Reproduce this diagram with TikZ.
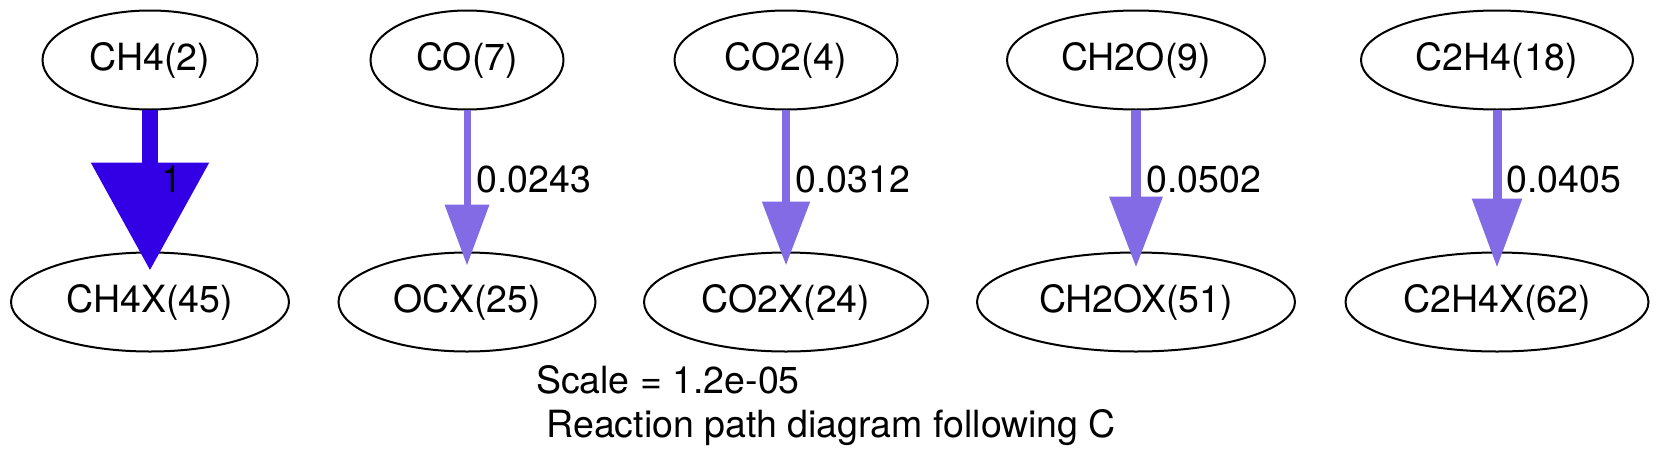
\documentclass[tikz,border=0pt]{standalone}
\usepackage{fontspec}
\setmainfont{TeX Gyre Heros}
\usetikzlibrary{shapes.geometric,arrows.meta}
\definecolor{strongflux}{HTML}{3300E6}
\definecolor{weakflux}{HTML}{836BE5}
\begin{document}
\begin{tikzpicture}[x=1pt,y=-1pt]
\tikzset{
  spec/.style={ellipse, draw=black, line width=2pt, inner sep=0pt, outer sep=0pt,
    minimum height=99pt, font=\fontsize{37.5}{45}\selectfont,
    text height=28pt, text depth=8pt},
  fluxlabel/.style={anchor=base west, inner sep=0pt, outer sep=0pt,
    font=\fontsize{37.5}{45}\selectfont},
  captiontext/.style={anchor=base west, inner sep=0pt, outer sep=0pt,
    font=\fontsize{37.5}{45}\selectfont},
  rxnline/.style={line cap=butt},
}
\useasboundingbox (0,0) rectangle (1660,469);
\fill[white] (0,0) rectangle (1660,469);

% species nodes
\node[spec, minimum width=215pt] (ch4)  at (150,60)  {CH4(2)};
\node[spec, minimum width=278pt] (ch4x) at (150,302) {CH4X(45)};
\node[spec, minimum width=193pt] (co)   at (467,60)  {CO(7)};
\node[spec, minimum width=257pt] (ocx)  at (467,302) {OCX(25)};
\node[spec, minimum width=223pt] (co2)  at (786,60)  {CO2(4)};
\node[spec, minimum width=284pt] (co2x) at (786,302) {CO2X(24)};
\node[spec, minimum width=258pt] (ch2o) at (1136,60) {CH2O(9)};
\node[spec, minimum width=318pt] (ch2ox) at (1136,302) {CH2OX(51)};
\node[spec, minimum width=272pt] (c2h4) at (1497,60) {C2H4(18)};
\node[spec, minimum width=303pt] (c2h4x) at (1497,302) {C2H4X(62)};

% reaction paths
\draw[rxnline, strongflux, line width=16.7pt, -{Triangle[length=108pt,width=114pt]}]
  (ch4.south) -- ([yshift=-18pt]ch4x.north);
\draw[rxnline, weakflux, line width=7pt, -{Triangle[length=61pt,width=43pt]}]
  (co.south) -- ([yshift=-13pt]ocx.north);
\draw[rxnline, weakflux, line width=8.5pt, -{Triangle[length=64pt,width=46pt]}]
  (co2.south) -- ([yshift=-13pt]co2x.north);
\draw[rxnline, weakflux, line width=10pt, -{Triangle[length=71pt,width=51pt]}]
  (ch2o.south) -- ([yshift=-15pt]ch2ox.north);
\draw[rxnline, weakflux, line width=9pt, -{Triangle[length=69pt,width=48pt]}]
  (c2h4.south) -- ([yshift=-15pt]c2h4x.north);

% flux labels
\node[fluxlabel] (l1) at (161,192)    {1};
\node[fluxlabel] (l2) at (476.5,192)  {0.0243};
\node[fluxlabel] (l3) at (795.5,192)  {0.0312};
\node[fluxlabel] (l4) at (1146.5,192) {0.0502};
\node[fluxlabel] (l5) at (1506.5,192) {0.0405};

% caption
\node[captiontext] (scale) at (536,393) {Scale = 1.2e-05};
\node[captiontext] (title) at (546.5,437) {Reaction path diagram following C};
\end{tikzpicture}
\end{document}
